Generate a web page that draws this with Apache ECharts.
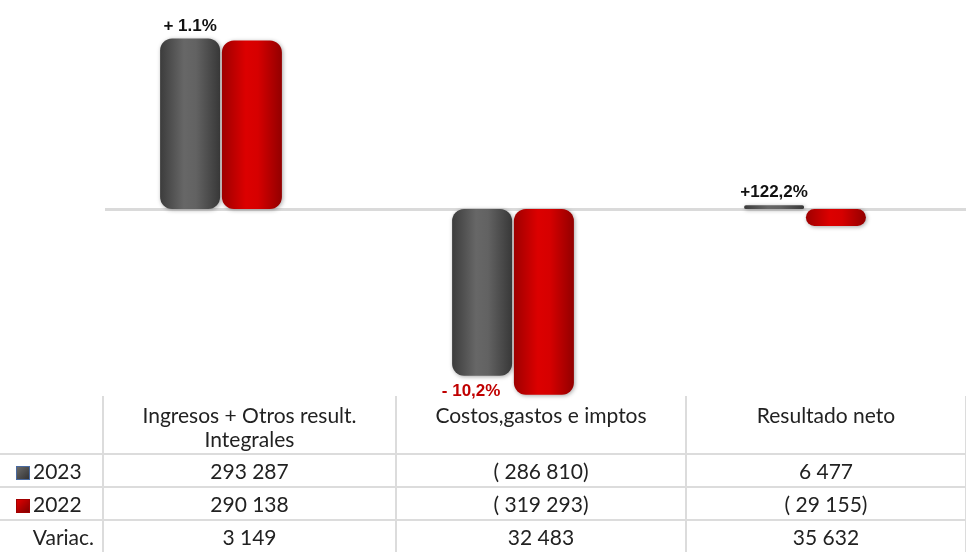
<!DOCTYPE html>
<html>
<head>
<meta charset="utf-8">
<script src="https://cdn.jsdelivr.net/npm/echarts@6/dist/echarts.min.js"></script>
<style>
  html, body { margin: 0; padding: 0; background: #fff; }
  #wrap { position: relative; width: 966px; height: 552px; overflow: hidden; }
  #chart { position: absolute; left: 0; top: 0; width: 966px; height: 552px; }
  #tbl { position: absolute; left: 0; top: 396px; width: 966px; border-collapse: collapse;
         font-family: Lato, 'Noto Sans', sans-serif; font-size: 21px; color: #222; table-layout: fixed; }
  #tbl td { border: 2px solid #dcdcdc; text-align: center; padding: 0; white-space: nowrap; }
  #tbl td:first-child { border-left: none; }
  #tbl tr.head td { vertical-align: top; padding-top: 7px; height: 50px; line-height: 24px; border-top: none; }
  #tbl tr.row td { height: 31px; }
  #tbl td.lab { text-align: left; padding-left: 16px; }
  #tbl td.var { text-align: right; padding-right: 8px; }
  .sw { display: inline-block; width: 14px; height: 14px; margin-right: 3px; vertical-align: -1px; box-sizing: border-box; }
</style>
</head>
<body>
<div id="wrap">
  <div id="chart"></div>
  <table id="tbl"></table>
</div>
<script>
  // datos
  const categories = ['Ingresos + Otros result.\nIntegrales', 'Costos,gastos e imptos', 'Resultado neto']
  const years = ['2023', '2022']
  const values2023 = [293287, -286810, 6477]
  const values2022 = [290138, -319293, -29155]
  const variation = [3149, 32483, 35632]
  const pctLabels = ['+ 1.1%', '- 10,2%', '+122,2%']

  const fmt = n => {
    const s = Math.abs(n).toString().replace(/\B(?=(\d{3})+(?!\d))/g, ' ')
    return n < 0 ? '( ' + s + ')' : s
  }

  // sombreado tipo cilindro
  const grayFill = new echarts.graphic.LinearGradient(0, 0, 1, 0, [
    { offset: 0, color: '#3c3c3c' },
    { offset: 0.4, color: '#676767' },
    { offset: 0.6, color: '#626262' },
    { offset: 1, color: '#383838' }
  ])
  const redFill = new echarts.graphic.LinearGradient(0, 0, 1, 0, [
    { offset: 0, color: '#9e0000' },
    { offset: 0.4, color: '#dc0000' },
    { offset: 0.6, color: '#d60000' },
    { offset: 1, color: '#920000' }
  ])

  const chart = echarts.init(document.getElementById('chart'))
  chart.setOption({
    animation: false,
    grid: { left: 75, right: 15, top: 19, bottom: 152 },
    xAxis: {
      type: 'category',
      data: categories,
      axisLine: { show: false },
      axisTick: { show: false },
      axisLabel: { show: false }
    },
    yAxis: {
      type: 'value',
      min: -328500,
      max: 327000,
      show: false,
      splitLine: { show: false }
    },
    series: [
      {
        name: years[0],
        type: 'bar',
        barWidth: 60,
        barGap: '3%',
        z: 3,
        itemStyle: {
          color: grayFill,
          borderRadius: 12,
          shadowColor: 'rgba(0,0,0,0.35)',
          shadowBlur: 4,
          shadowOffsetX: 1,
          shadowOffsetY: 1
        },
        // linea del cero, desde el borde de la tabla
        markLine: {
          silent: true,
          symbol: 'none',
          z: 1,
          label: { show: false },
          lineStyle: { color: '#dadada', width: 3, type: 'solid' },
          data: [[{ x: 105, yAxis: 0 }, { x: 966, yAxis: 0 }]]
        },
        data: values2023.map((v, i) => ({
          value: v,
          label: {
            show: true,
            position: v < 0 ? 'bottom' : 'top',
            offset: v < 0 ? [-11, 2] : [0, 1],
            formatter: pctLabels[i],
            color: v < 0 ? '#c00000' : '#111',
            fontFamily: "'Liberation Sans Narrow', 'Liberation Sans', Arial, sans-serif",
            fontWeight: 'bold',
            fontSize: 17
          }
        }))
      },
      {
        name: years[1],
        type: 'bar',
        barWidth: 60,
        z: 3,
        itemStyle: {
          color: redFill,
          borderRadius: 12,
          shadowColor: 'rgba(0,0,0,0.35)',
          shadowBlur: 4,
          shadowOffsetX: 1,
          shadowOffsetY: 1
        },
        data: values2022
      }
    ]
  })

  // tabla de datos
  const tbl = document.getElementById('tbl')
  const widths = [103, 293, 290, 280]
  let html = '<colgroup>' + widths.map(w => '<col style="width:' + w + 'px">').join('') + '</colgroup>'
  html += '<tr class="head"><td></td>' + categories.map(c => '<td>' + c.replace('\n', '<br>') + '</td>').join('') + '</tr>'
  const swatch = [
    '<span class="sw" style="background:linear-gradient(135deg,#6a6a6a,#333);border:1px solid #4a6aa0"></span>',
    '<span class="sw" style="background:linear-gradient(135deg,#e00000,#800000);border:1px solid #a00000"></span>'
  ]
  ;[values2023, values2022].forEach((vals, r) => {
    html += '<tr class="row"><td class="lab">' + swatch[r] + years[r] + '</td>' + vals.map(v => '<td>' + fmt(v) + '</td>').join('') + '</tr>'
  })
  html += '<tr class="row"><td class="var">Variac.</td>' + variation.map(v => '<td>' + fmt(v) + '</td>').join('') + '</tr>'
  tbl.innerHTML = html
</script>
</body>
</html>
